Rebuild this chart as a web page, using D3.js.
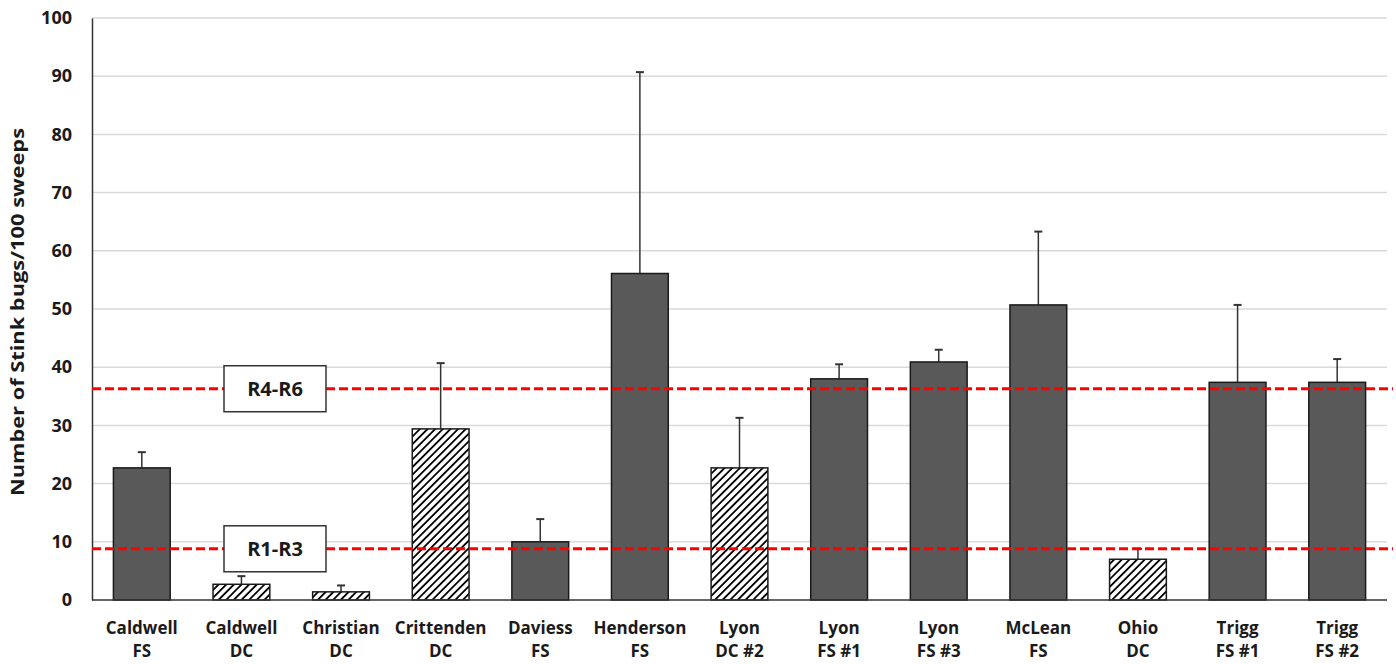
<!DOCTYPE html>
<html>
<head>
<meta charset="utf-8">
<script src="https://cdn.jsdelivr.net/npm/d3@7"></script>
<style>
  body { margin: 0; background: #fff; }
  text { font-family: "Open Sans", Lato, sans-serif; font-weight: bold; fill: #1a1a1a; }
</style>
</head>
<body>
<div id="chart"></div>
<script>
// DATA
var sites = ["Caldwell", "Caldwell", "Christian", "Crittenden", "Daviess", "Henderson", "Lyon",
    "Lyon", "Lyon", "McLean", "Ohio", "Trigg", "Trigg"];
var fields = ["FS", "DC", "DC", "DC", "FS", "FS", "DC #2", "FS #1", "FS #3", "FS", "DC", "FS #1", "FS #2"];
var means = [22.7, 2.7, 1.4, 29.4, 10.0, 56.1, 22.7, 38.0, 40.9, 50.7, 7.0, 37.4, 37.4];
var upper = [25.4, 4.1, 2.5, 40.7, 13.9, 90.7, 31.3, 40.5, 43.0, 63.3, 8.8, 50.7, 41.4];
var hatched = [false, true, true, true, false, false, true, false, false, false, true, false, false];
var thresholds = [36.3, 8.8];
var thresholdLabels = ["R4-R6", "R1-R3"];
var yTicks = [0, 10, 20, 30, 40, 50, 60, 70, 80, 90, 100];

var width = 1396, height = 664;
var margin = { left: 92, right: 9, top: 18, bottom: 64 };

var svg = d3.select("#chart")
    .append("svg")
    .attr("width", width)
    .attr("height", height);

// hatch pattern for DC bars
var hp = 5.4;
var defs = svg.append("defs");
defs.append("pattern")
    .attr("id", "hatch")
    .attr("patternUnits", "userSpaceOnUse")
    .attr("width", hp)
    .attr("height", hp)
    .attr("patternTransform", "rotate(45)")
    .call(p => {
        p.append("rect").attr("width", hp).attr("height", hp).attr("fill", "#fff");
        p.append("line")
            .attr("x1", 0).attr("y1", 0).attr("x2", 0).attr("y2", hp)
            .attr("stroke", "#000").attr("stroke-width", 3.6);
    });

var idx = d3.range(sites.length);

var xScale = d3.scaleBand()
    .domain(idx)
    .range([margin.left, width - margin.right])
    .paddingInner(0.43)
    .paddingOuter(0.215);

var yScale = d3.scaleLinear()
    .domain([0, 100])
    .range([height - margin.bottom, margin.top]);

var chart = svg.append("g").classed("chart", true);

// gridlines
chart.append("g")
    .selectAll("line")
    .data(yTicks.slice(1))
    .enter()
    .append("line")
    .attr("x1", margin.left)
    .attr("x2", width - margin.right)
    .attr("y1", d => yScale(d))
    .attr("y2", d => yScale(d))
    .attr("stroke", "#d9d9d9")
    .attr("stroke-width", 1.5);

// y axis
var yAxis = chart.append("g")
    .attr("transform", "translate(" + margin.left + ",0)")
    .call(d3.axisLeft(yScale).tickValues(yTicks).tickSize(0).tickPadding(20));
yAxis.select(".domain").attr("stroke", "#333").attr("stroke-width", 1.5);
yAxis.selectAll("text")
    .style("font-size", "18px")
    .style("font-family", "'Open Sans', sans-serif")
    .attr("fill", "#1a1a1a");

// y label
chart.append("text")
    .attr("transform", "translate(24, 312)rotate(-90)")
    .attr("text-anchor", "middle")
    .style("font-size", "18px")
    .attr("textLength", 368)
    .attr("lengthAdjust", "spacingAndGlyphs")
    .text("Number of Stink bugs/100 sweeps");

// error bars (behind bars)
var err = chart.append("g");
err.selectAll("line.stem")
    .data(idx)
    .enter()
    .append("line")
    .attr("class", "stem")
    .attr("x1", i => xScale(i) + xScale.bandwidth() / 2)
    .attr("x2", i => xScale(i) + xScale.bandwidth() / 2)
    .attr("y1", i => yScale(means[i]))
    .attr("y2", i => yScale(upper[i]))
    .attr("stroke", "#333")
    .attr("stroke-width", 1.5);
err.selectAll("line.cap")
    .data(idx)
    .enter()
    .append("line")
    .attr("class", "cap")
    .attr("x1", i => xScale(i) + xScale.bandwidth() / 2 - 4)
    .attr("x2", i => xScale(i) + xScale.bandwidth() / 2 + 4)
    .attr("y1", i => yScale(upper[i]))
    .attr("y2", i => yScale(upper[i]))
    .attr("stroke", "#333")
    .attr("stroke-width", 2);

// bars
chart.append("g")
    .selectAll("rect")
    .data(idx)
    .enter()
    .append("rect")
    .attr("x", i => xScale(i))
    .attr("width", xScale.bandwidth())
    .attr("y", i => yScale(means[i]))
    .attr("height", i => yScale(0) - yScale(means[i]))
    .attr("fill", i => hatched[i] ? "url(#hatch)" : "#595959")
    .attr("stroke", "#1a1a1a")
    .attr("stroke-width", 1.5);

// x axis line
chart.append("line")
    .attr("x1", margin.left)
    .attr("x2", width - margin.right)
    .attr("y1", yScale(0))
    .attr("y2", yScale(0))
    .attr("stroke", "#333")
    .attr("stroke-width", 1.5);

// x labels
var xl = chart.append("g")
    .selectAll("text")
    .data(idx)
    .enter()
    .append("text")
    .attr("text-anchor", "middle")
    .attr("x", i => xScale(i) + xScale.bandwidth() / 2)
    .style("font-size", "17px");
xl.append("tspan")
    .attr("x", i => xScale(i) + xScale.bandwidth() / 2)
    .attr("y", 634)
    .text(i => sites[i]);
xl.append("tspan")
    .attr("x", i => xScale(i) + xScale.bandwidth() / 2)
    .attr("y", 657)
    .text(i => fields[i]);

// threshold lines
chart.append("g")
    .selectAll("line")
    .data(thresholds)
    .enter()
    .append("line")
    .attr("x1", margin.left)
    .attr("x2", width - 3)
    .attr("y1", d => yScale(d))
    .attr("y2", d => yScale(d))
    .attr("stroke", "#ff0000")
    .attr("stroke-width", 3)
    .attr("stroke-dasharray", "9,4");

// threshold label boxes
var boxes = chart.append("g")
    .selectAll("g")
    .data(thresholds)
    .enter()
    .append("g")
    .attr("transform", d => "translate(275," + yScale(d) + ")");
boxes.append("rect")
    .attr("x", -51)
    .attr("y", -23)
    .attr("width", 102)
    .attr("height", 46)
    .attr("fill", "#fff")
    .attr("stroke", "#333")
    .attr("stroke-width", 1.5);
boxes.append("text")
    .attr("text-anchor", "middle")
    .attr("dy", "0.36em")
    .style("font-size", "20px")
    .text((d, i) => thresholdLabels[i]);
</script>
</body>
</html>
